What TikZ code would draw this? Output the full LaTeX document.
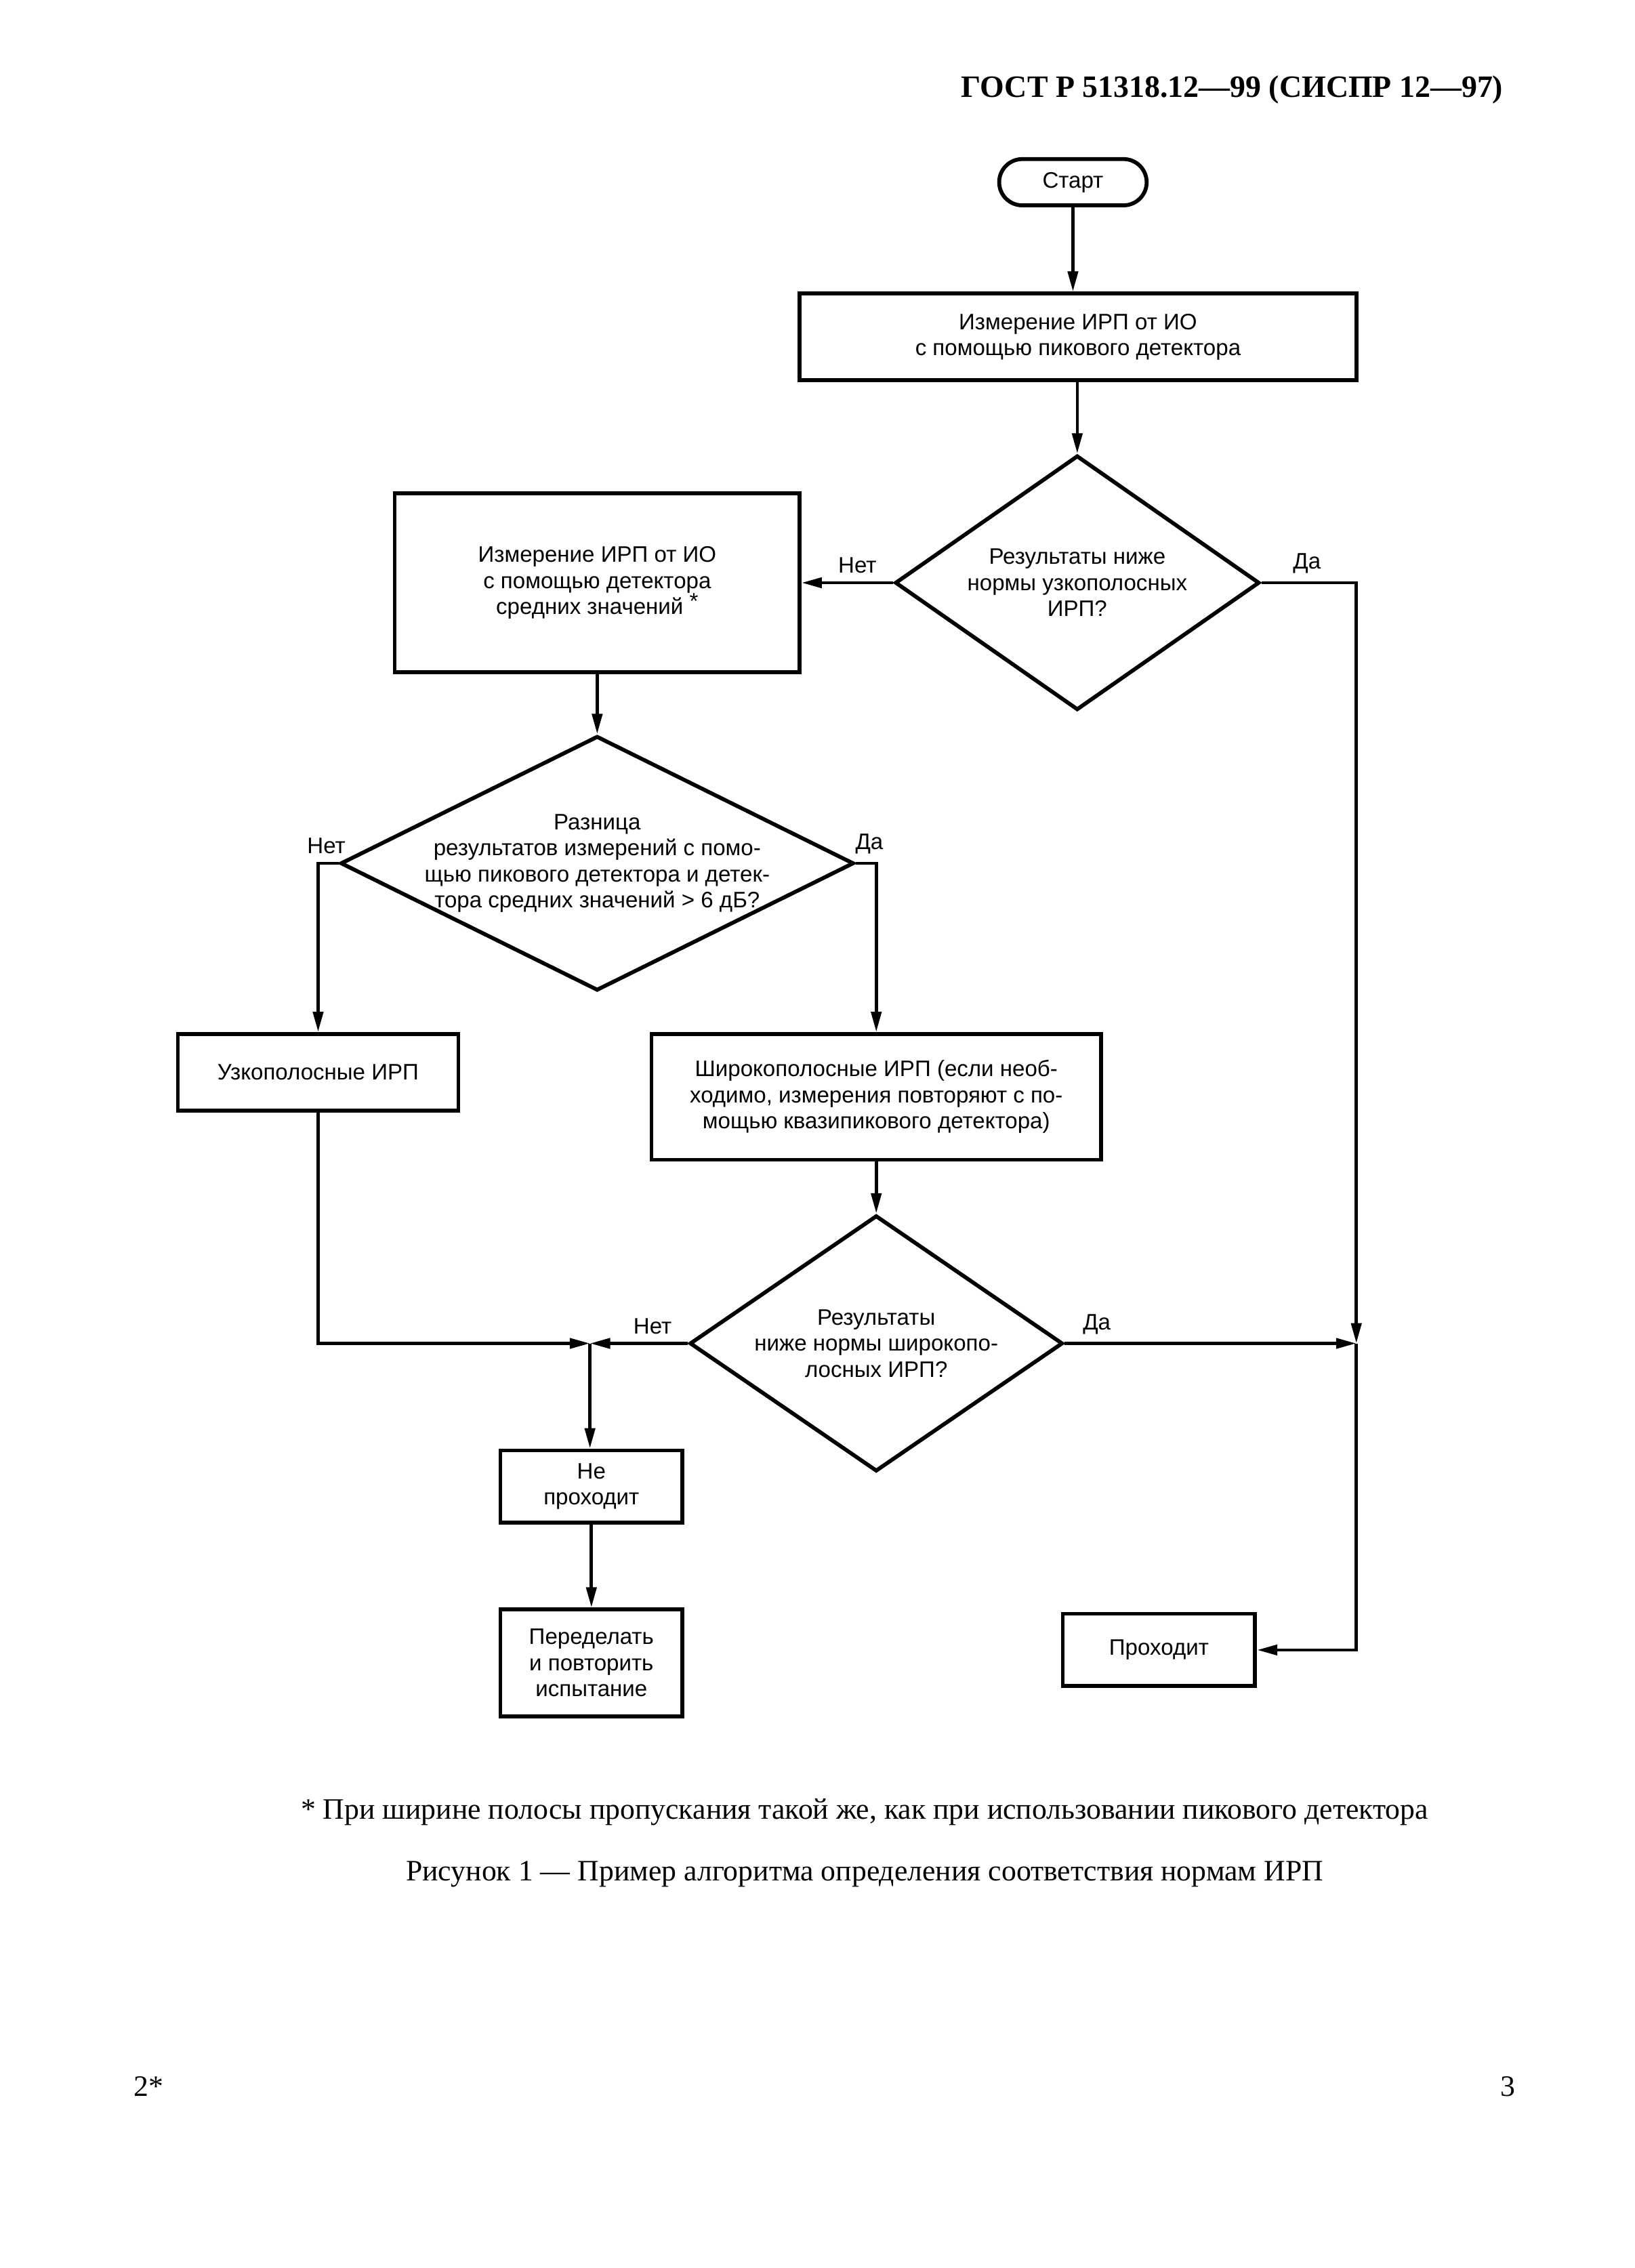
\documentclass[tikz,border=0pt]{standalone}
\usepackage{fontspec}
\setmainfont{Liberation Serif}
\setsansfont{Liberation Sans}
\usetikzlibrary{shapes.geometric,arrows.meta}
\newcommand\flowfont{\sffamily\fontsize{15.5}{18}\selectfont}
\newcommand\pagefont{\rmfamily\fontsize{20.5}{24}\selectfont}
\tikzset{
  block/.style={draw,rectangle,line width=2.7pt,inner sep=0pt,align=center,font=\flowfont},
  term/.style={block,rounded corners=16pt},
  decision/.style={draw,diamond,line width=2.7pt,inner sep=0pt},
  dtext/.style={align=center,font=\flowfont},
  arr/.style={line width=2.2pt,-{Triangle[length=14pt,width=7pt]}},
  yesno/.style={font=\flowfont,above=2pt}
}
\begin{document}
\begin{tikzpicture}[x=1pt,y=-1pt]
\useasboundingbox (0,0) rectangle (1130.3,1568.4);
\node[anchor=east,font=\rmfamily\fontsize{21.5}{24}\selectfont\bfseries] (head) at (1043,62) {ГОСТ Р 51318.12—99 (СИСПР 12—97)};
\node[term,minimum width=102pt,minimum height=32pt] (start) at (742,126) {Старт};
\node[block,minimum width=385pt,minimum height=60pt] (peak) at (745.5,233) {Измерение ИРП от ИО\\с помощью пикового детектора};
\node[decision,minimum width=252pt,minimum height=176pt,label={[dtext]center:{Результаты ниже\\нормы узкополосных\\ИРП?}}] (narrowq) at (745,403) {};
\node[block,minimum width=280pt,minimum height=124pt] (avg) at (413,403) {Измерение ИРП от ИО\\с помощью детектора\\средних значений \raisebox{0.45ex}{*}};
\node[decision,minimum width=355pt,minimum height=176pt,label={[dtext]center:{Разница\\результатов измерений с помо-\\щью пикового детектора и детек-\\тора средних значений > 6 дБ?}}] (diffq) at (413,597) {};
\node[block,minimum width=194pt,minimum height=53pt] (narrow) at (220,741.5) {Узкополосные ИРП};
\node[block,minimum width=311pt,minimum height=87pt] (broad) at (606,758.5) {Широкополосные ИРП (если необ-\\ходимо, измерения повторяют с по-\\мощью квазипикового детектора)};
\node[decision,minimum width=258pt,minimum height=177pt,label={[dtext]center:{Результаты\\ниже нормы широкопо-\\лосных ИРП?}}] (broadq) at (606,929) {};
\node[block,minimum width=126pt,minimum height=50pt] (fail) at (409,1028) {Не\\проходит};
\node[block,minimum width=126pt,minimum height=74pt] (redo) at (409,1150) {Переделать\\и повторить\\испытание};
\node[block,minimum width=133pt,minimum height=50pt] (pass) at (801.5,1141) {Проходит};
\coordinate (jleft) at (408,929);
\coordinate (jright) at (938,929);
\draw[arr] (start.south) -- (start.south |- peak.north);
\draw[arr] (peak.south -| narrowq.north) -- (narrowq.north);
\draw[arr] (narrowq.west) -- node[yesno,pos=0.39] (no1) {Нет} (narrowq.west -| avg.east);
\draw[arr] (narrowq.east) -| node[yesno,pos=0.24] (yes1) {Да} (jright);
\draw[arr] (avg.south) -- (diffq.north);
\draw[arr] (diffq.west) -| node[yesno,pos=0.3] (no2) {Нет} (narrow.north);
\draw[arr] (diffq.east) -| node[yesno,pos=0.33] (yes2) {Да} (broad.north);
\draw[arr] (broad.south) -- (broadq.north);
\draw[arr] (narrow.south) |- (jleft);
\draw[arr] (broadq.west) -- node[yesno,pos=0.36] (no3) {Нет} (jleft);
\draw[arr] (jleft) -- (jleft |- fail.north);
\draw[arr] (fail.south) -- (redo.north);
\draw[arr] (broadq.east) -- node[yesno,pos=0.11] (yes3) {Да} (jright);
\draw[arr] (jright) |- (pass.east);
\node[font=\pagefont] (note) at (598,1253) {* При ширине полосы пропускания такой же, как при использовании пикового детектора};
\node[font=\pagefont] (caption) at (598,1296) {Рисунок 1 — Пример алгоритма определения соответствия нормам ИРП};
\node[font=\pagefont] (pgleft) at (103,1443) {2*};
\node[font=\pagefont] (pgright) at (1043,1443) {3};
\end{tikzpicture}
\end{document}
